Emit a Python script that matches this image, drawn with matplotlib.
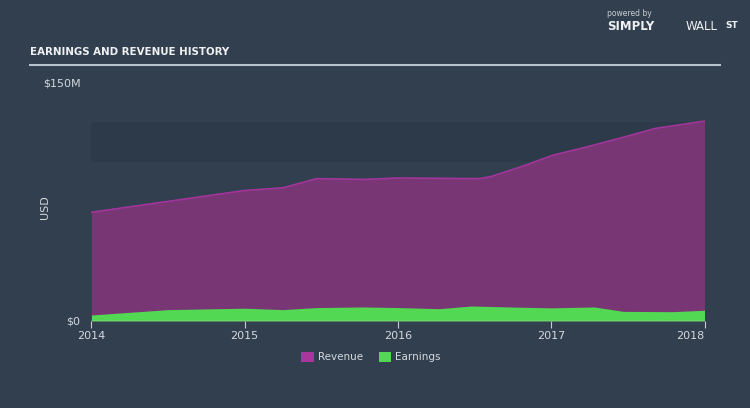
import matplotlib
matplotlib.use("Agg")
import matplotlib.pyplot as plt
import numpy as np
from matplotlib.patches import Patch, Rectangle
from matplotlib import font_manager as fm

# data (values in $M, x in fractional years)
rev_x = [2014.0, 2015.0, 2015.25, 2015.47, 2015.78, 2016.0, 2016.53, 2016.61, 2016.8, 2017.01, 2017.25, 2017.44, 2017.68, 2018.0]
rev_y = [68.8, 82.6, 84.3, 90.1, 89.6, 90.5, 90.1, 91.5, 97.5, 104.9, 110.6, 115.5, 121.9, 126.5]
earn_x = [2014.0, 2014.5, 2015.0, 2015.25, 2015.47, 2015.78, 2016.0, 2016.27, 2016.48, 2016.72, 2017.0, 2017.28, 2017.47, 2017.79, 2018.0]
earn_y = [3.8, 7.2, 8.1, 7.2, 8.5, 8.9, 8.5, 7.8, 9.5, 8.9, 8.3, 8.9, 6.1, 5.9, 6.8]
year_ticks = [2014, 2015, 2016, 2017, 2018]
y_ticks = [0, 150]
y_tick_labels = ["$0", "$150M"]

BG = "#323f4e"
REV_FILL = "#793674"
REV_LINE = "#a4359c"
EARN = "#52d853"
TXT = "#d4d9de"

fig = plt.figure(figsize=(7.5, 4.08), dpi=100, facecolor=BG)
ax = fig.add_axes([91.4/750, 87/408, (704.5-91.4)/750, (321-84)/408])
ax.set_facecolor(BG)
ax.set_xlim(2014, 2018)
ax.set_ylim(0, 150)

# darker band
ax.add_patch(Rectangle((2014, 100.7), 4, 25.1, facecolor="#2d3a49", edgecolor="none", zorder=0))

ax.fill_between(rev_x, rev_y, 0, color=REV_FILL, lw=0, zorder=1)
ax.plot(rev_x, rev_y, color=REV_LINE, lw=1.2, zorder=2)
ax.fill_between(earn_x, earn_y, 0, color=EARN, lw=0, zorder=3)

for s in ax.spines.values():
    s.set_visible(False)
ax.axhline(0, color="#c8cdd2", lw=1, zorder=4)
ax.set_xticks(year_ticks)
ax.set_xticklabels([str(y) for y in year_ticks])
lbls = ax.get_xticklabels()
lbls[-1].set_horizontalalignment("right")
ax.tick_params(axis="x", colors="#c8cdd2", labelcolor=TXT, length=5, width=0.8, labelsize=8, pad=2, direction="out")
ax.set_yticks(y_ticks)
ax.set_yticklabels(y_tick_labels)
ax.tick_params(axis="y", length=0, labelcolor=TXT, labelsize=8, pad=8)
for t in ax.get_yticklabels():
    t.set_verticalalignment("center")
ax.set_ylabel("USD", color=TXT, fontsize=8, labelpad=12)
ax.yaxis.set_label_coords(-0.068, 0.48)

# title and rule (condensed font if available)
cond = None
for f in fm.fontManager.ttflist:
    if "Condensed" in f.fname and "Bold" in f.fname and "Oblique" not in f.fname and "DejaVuSans" in f.fname.replace(" ", ""):
        cond = f.fname
        break
if cond:
    tfont = fm.FontProperties(fname=cond, size=8.2)
else:
    tfont = fm.FontProperties(family="DejaVu Sans", weight="bold", size=7.4)
fig.text(30/750, 1-52/408, "EARNINGS AND REVENUE HISTORY", color="#eef0f2",
         fontproperties=tfont, va="center", ha="left")
fig.add_artist(plt.Line2D([30/750, 720/750], [1-64.5/408, 1-64.5/408], color="#b8c2cc", lw=1.5))

# branding
fig.text(607/750, 1-14/408, "powered by", color="#c8cdd2", fontsize=5.5, va="center", ha="left")
fig.text(607/750, 1-27/408, "SIMPLY", color="#eef0f2", fontsize=8.5, fontweight="bold", va="center", ha="left")
fig.text(686/750, 1-27/408, "WALL", color="#eef0f2", fontsize=8.5, va="center", ha="left")
fig.text(725/750, 1-26/408, "ST", color="#eef0f2", fontsize=6.5, fontweight="bold", va="center", ha="left")

handles = [Patch(facecolor="#a8369d", edgecolor="none", label="Revenue"),
           Patch(facecolor=EARN, edgecolor="none", label="Earnings")]
leg = fig.legend(handles=handles, loc="center", bbox_to_anchor=(371/750, 1-357/408), ncol=2,
                 frameon=False, fontsize=7.5, handlelength=1.2, handleheight=1.2,
                 columnspacing=1.5, handletextpad=0.4)
for t in leg.get_texts():
    t.set_color(TXT)

fig.savefig("out.png", dpi=100, facecolor=BG)
